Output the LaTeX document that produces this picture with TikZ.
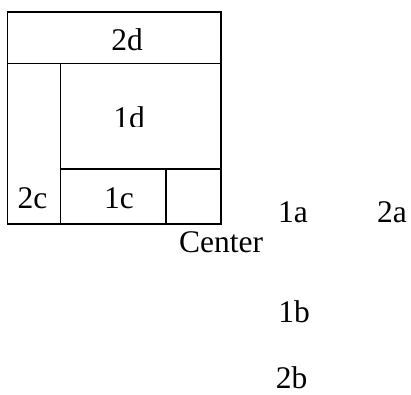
\documentclass[tikz,border=0pt]{standalone}
\usepackage{fontspec}
\setmainfont{Liberation Serif}
\begin{document}
\begin{tikzpicture}[x=1pt,y=-1pt,
  box/.style={draw,line width=1.1pt,inner sep=0pt},
  lbl/.style={anchor=base,inner sep=0pt,font=\fontsize{31.5}{36}\selectfont}]
\useasboundingbox (0,0) rectangle (411,394);
\path[box] (7.5,12) rectangle (221,224);
\path[box] (7.5,12) rectangle (221,63.5);
\path[box] (60.5,63.5) rectangle (221,169);
\path[box] (60.5,169) rectangle (166,224);
\path[box] (166,169) rectangle (221,224);
\node[lbl] (d2) at (127,50) {2d};
\begin{scope}
\clip (60.5,63.5) rectangle (221,126);
\node[lbl] (d1) at (129,128) {1d};
\end{scope}
\node[lbl] (c2) at (32.5,208) {2c};
\node[lbl] (c1) at (119,208) {1c};
\node[lbl] (ctr) at (221,252) {Center};
\node[lbl] (a1) at (293,222) {1a};
\node[lbl] (a2) at (392,222) {2a};
\node[lbl] (b1) at (294,322) {1b};
\node[lbl] (b2) at (291.5,388) {2b};
\end{tikzpicture}
\end{document}
